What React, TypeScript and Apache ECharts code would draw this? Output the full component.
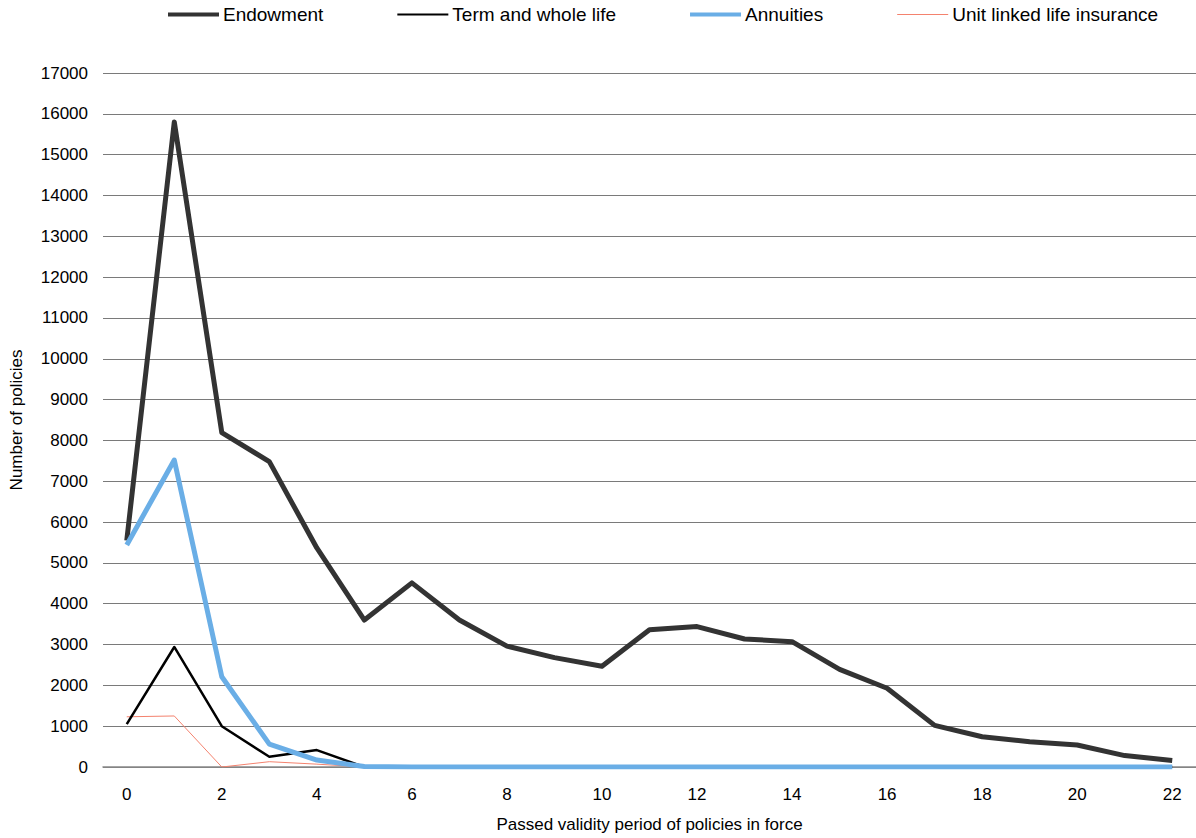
import React, { useEffect, useRef } from "react";
import * as echarts from "echarts";

const categories = ["0","1","2","3","4","5","6","7","8","9","10","11","12","13","14","15","16","17","18","19","20","21","22"];
const endowment = [5550, 15800, 8190, 7480, 5365, 3600, 4510, 3600, 2960, 2680, 2470, 3360, 3440, 3135, 3070, 2390, 1930, 1020, 740, 620, 540, 280, 160];
const termWholeLife = [1050, 2940, 1000, 250, 415, 0, 0, 0, 0, 0, 0, 0, 0, 0, 0, 0, 0, 0, 0, 0, 0, 0, 0];
const annuities = [5440, 7520, 2210, 560, 170, 10, 0, 0, 0, 0, 0, 0, 0, 0, 0, 0, 0, 0, 0, 0, 0, 0, 0];
const unitLinked = [1230, 1250, 0, 130, 70, 0, 0, 0, 0, 0, 0, 0, 0, 0, 0, 0, 0, 0, 0, 0, 0, 0, 0];

const FONT = "'Liberation Sans', Arial, sans-serif";

export default function App() {
  const ref = useRef<HTMLDivElement>(null);
  useEffect(() => {
    if (!ref.current) return;
    const chart = echarts.init(ref.current, undefined, { renderer: "svg" });
    const mk = (name: string, data: number[], color: string, width: number, z: number) => ({
      name,
      type: "line",
      data,
      symbol: "none",
      z,
      lineStyle: { color, width, join: "round" },
      itemStyle: { color },
    });
    chart.setOption({
      animation: false,
      textStyle: { fontFamily: FONT },
      legend: {
        top: 0,
        left: 163,
        itemWidth: 51,
        itemHeight: 14,
        itemGap: 74,
        textStyle: { fontSize: 19, color: "#000", fontFamily: FONT, padding: [0, 0, 0, -1] },
        data: [
          { name: "Endowment", icon: "path://M0,5L51,5L51,9L0,9Z", itemStyle: { color: "#333333" } },
          { name: "Term and whole life", icon: "path://M0,6L51,6L51,8L0,8Z", itemStyle: { color: "#000" } },
          { name: "Annuities", icon: "path://M0,5L51,5L51,9L0,9Z", itemStyle: { color: "#6AAEE6" } },
          { name: "Unit linked life insurance", icon: "path://M0,6.5L51,6.5L51,7.5L0,7.5Z", itemStyle: { color: "#F4826E" } },
        ],
      },
      grid: { left: 99, right: 0, top: 73, bottom: 71 },
      xAxis: {
        type: "category",
        data: categories,
        boundaryGap: true,
        name: "Passed validity period of policies in force",
        nameLocation: "middle",
        nameGap: 49,
        nameTextStyle: { fontSize: 17, color: "#000", fontFamily: FONT },
        axisLine: { lineStyle: { color: "#888", width: 1.5 } },
        axisTick: { show: false },
        axisLabel: { interval: 1, fontSize: 17, color: "#000", margin: 19, fontFamily: FONT },
        splitLine: { show: false },
      },
      yAxis: {
        type: "value",
        min: 0,
        max: 17000,
        interval: 1000,
        name: "Number of policies",
        nameLocation: "middle",
        nameGap: 78,
        nameTextStyle: { fontSize: 17, color: "#000", fontFamily: FONT },
        axisLine: { show: false },
        axisTick: { show: false },
        axisLabel: { fontSize: 17, color: "#000", margin: 15, fontFamily: FONT, formatter: (v: number) => String(v) },
        splitLine: { lineStyle: { color: "#7a7a7a", width: 1 } },
      },
      series: [
        mk("Endowment", endowment, "#333333", 5, 4),
        mk("Term and whole life", termWholeLife, "#000000", 2.5, 3),
        mk("Annuities", annuities, "#6AAEE6", 5, 5),
        mk("Unit linked life insurance", unitLinked, "#F4826E", 1, 2),
      ],
    });
    return () => chart.dispose();
  }, []);
  return <div ref={ref} style={{ width: 1196, height: 838, position: "absolute", left: 0, top: 0 }} />;
}
